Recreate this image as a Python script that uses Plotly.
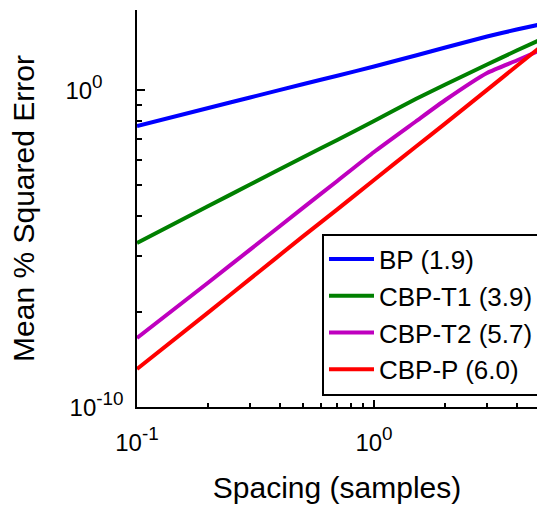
import numpy as np
import plotly.graph_objects as go

spacing = [0.1, 0.2, 0.3, 0.5, 0.7, 1, 1.5, 2, 3, 4, 5]
bp = [0.0731, 0.2704, 0.580, 1.52, 2.81, 5.51, 12.25, 21.9, 48.7, 81.0, 116.4]
cbp_t1 = [1.49e-5, 2.19e-4, 1.04e-3, 7.42e-3, 0.0265, 0.105, 0.520, 1.49, 6.37, 17.6, 37.8]
cbp_t2 = [1.50e-8, 8.46e-7, 9.23e-6, 1.87e-4, 1.35e-3, 0.01107, 0.1015, 0.484, 3.44, 8.53, 17.6]
cbp_p = [1.58e-9, 9.64e-8, 1.10e-6, 2.37e-5, 1.72e-4, 1.45e-3, 0.01626, 0.0883, 1.007, 5.71, 21.8]

names = ["BP (1.9)", "CBP-T1 (3.9)", "CBP-T2 (5.7)", "CBP-P (6.0)"]
colors = ["#0000FF", "#008000", "#BF00BF", "#FF0000"]
series = [bp, cbp_t1, cbp_t2, cbp_p]

BASE = "<span style='font-size:24px'>10</span>"
x_tickvals = [0.1, 1]
x_ticktext = [BASE + "<sup>-1</sup>", BASE + "<sup>0</sup>"]
y_tickvals = [1e-10, 1]
y_ticktext = [BASE + "<sup>-10</sup>", BASE + "<sup>0\u00a0\u00a0\u00a0\u00a0</sup>"]

FONT = "Liberation Sans, Arial, Helvetica, sans-serif"

fig = go.Figure()
for name, col, ys in zip(names, colors, series):
    fig.add_trace(go.Scatter(x=spacing, y=ys, mode="lines", name=name,
                             line=dict(color=col, width=4, shape="spline", smoothing=0.5)))

x_minor = [0.2, 0.3, 0.4, 0.5, 0.6, 0.7, 0.8, 0.9, 2, 3, 4]
y_minor = [10 ** (-10 + 10 * np.log10(k)) for k in range(2, 10)]

fig.update_layout(
    width=537, height=510,
    margin=dict(l=137, r=0, t=10, b=103, autoexpand=False),
    paper_bgcolor="white", plot_bgcolor="white",
    font=dict(family=FONT, size=24, color="black"),
    showlegend=True,
    legend=dict(x=0.4625, y=0.437, xanchor="left", yanchor="top",
                bgcolor="white", bordercolor="black", borderwidth=2,
                font=dict(size=26), itemwidth=45),
    xaxis=dict(type="log", range=[-1, 0.6878], showgrid=False, zeroline=False,
               showline=True, linecolor="black", linewidth=2,
               tickmode="array", tickvals=x_tickvals, ticktext=x_ticktext,
               ticks="inside", ticklen=7, tickwidth=1.5, tickcolor="black",
               tickfont=dict(size=27), ticklabelstandoff=10,
               minor=dict(tickmode="array", tickvals=x_minor, ticks="inside",
                          ticklen=4, tickwidth=1.5, tickcolor="black"),
               title=dict(text="Spacing (samples)", font=dict(size=30), standoff=22),
               automargin=False),
    yaxis=dict(type="log", range=[-10, 2.524], showgrid=False, zeroline=False,
               showline=True, linecolor="black", linewidth=2,
               tickmode="array", tickvals=y_tickvals, ticktext=y_ticktext,
               ticks="inside", ticklen=8, tickwidth=1.5, tickcolor="black",
               tickfont=dict(size=27), ticklabelstandoff=6,
               minor=dict(tickmode="array", tickvals=y_minor, ticks="inside",
                          ticklen=5, tickwidth=1.5, tickcolor="black"),
               title=dict(text="Mean % Squared Error", font=dict(size=30), standoff=22),
               automargin=False),
)

fig.write_html("out.html")
